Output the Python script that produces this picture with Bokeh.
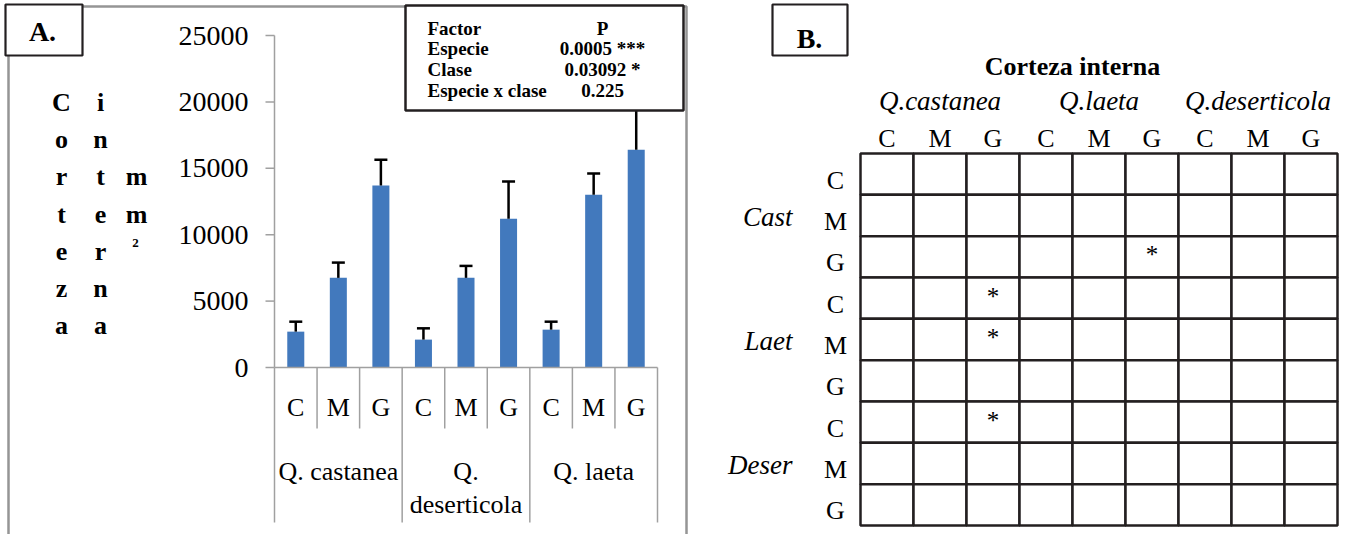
from bokeh.plotting import figure
from bokeh.models import Range1d
from bokeh.layouts import row
from bokeh.core.properties import value
from bokeh.embed import file_html
from bokeh.resources import INLINE

# ---------------- data ----------------
species_a = ["Q. castanea", "Q. deserticola", "Q. laeta"]
species_a_text = ["Q. castanea", "Q.\ndeserticola", "Q. laeta"]
classes = ["C", "M", "G"]
# inner bark area (mm2): mean and standard error per species and size class
area_mean = {
    "Q. castanea": [2700, 6750, 13700],
    "Q. deserticola": [2100, 6750, 11200],
    "Q. laeta": [2850, 13000, 16400],
}
area_se = {
    "Q. castanea": [750, 1150, 1950],
    "Q. deserticola": [850, 900, 2800],
    "Q. laeta": [600, 1600, 4500],
}
y_ticks = [0, 5000, 10000, 15000, 20000, 25000]
y_label_words = ["Corteza", "interna", "mm"]

anova_factor = ["Factor", "Especie", "Clase", "Especie x clase"]
anova_p = ["P", "0.0005 ***", "0.03092 *", "0.225"]

species_b_cols = ["Q.castanea", "Q.laeta", "Q.deserticola"]
species_b_rows = ["Cast", "Laet", "Deser"]
# significant pairwise differences: (row species, row class, column species, column class)
significant = [
    ("Cast", "G", "Q.laeta", "G"),
    ("Laet", "C", "Q.castanea", "G"),
    ("Laet", "M", "Q.castanea", "G"),
    ("Deser", "C", "Q.castanea", "G"),
]

SERIF = value("Liberation Serif")
INK = "#231f20"
BAR = "#4279bd"
AXIS_GREY = "#a0a0a0"

# ================= panel A: bar chart =================
WA, H = 690, 534
PLOT_L, PLOT_R = 274, 657       # canvas columns spanned by the nine categories
Y0_PX, YTOP_PX = 367, 35        # canvas rows of 0 and 25000
cw = (PLOT_R - PLOT_L) / 9
per_px = 25000 / (Y0_PX - YTOP_PX)


def ax_x(px):
    """category-index coordinate at canvas column px"""
    return (px - PLOT_L) / cw


def ax_y(py):
    """bar value coordinate at canvas row py"""
    return (Y0_PX - py) * per_px


pa = figure(width=WA, height=H, output_backend="svg", toolbar_location=None, title=None,
            x_range=Range1d(ax_x(0), ax_x(WA)), y_range=Range1d(ax_y(H), ax_y(0)),
            x_axis_location=None, y_axis_location=None,
            min_border=0, min_border_left=0, min_border_right=0,
            min_border_top=0, min_border_bottom=0)
pa.outline_line_color = None
pa.background_fill_color = "white"
pa.border_fill_color = "white"
pa.grid.visible = False

# bars and error bars
n = len(species_a) * len(classes)
pos = [i + 0.5 for i in range(n)]
means = [v for s in species_a for v in area_mean[s]]
uppers = [m + e for s in species_a for m, e in zip(area_mean[s], area_se[s])]
pa.vbar(x=pos, top=means, width=0.4, fill_color=BAR, line_color=None)
pa.segment(x0=pos, x1=pos, y0=means, y1=uppers, line_color="black", line_width=2.5)
half_cap = 6.5 / cw
pa.segment(x0=[p - half_cap for p in pos], x1=[p + half_cap for p in pos], y0=uppers, y1=uppers,
           line_color="black", line_width=2.5)

# value axis
pa.segment(x0=[0], x1=[0], y0=[y_ticks[0]], y1=[y_ticks[-1]], line_color=AXIS_GREY, line_width=1.5)
pa.segment(x0=[ax_x(265)] * len(y_ticks), x1=[0] * len(y_ticks), y0=y_ticks, y1=y_ticks,
           line_color=AXIS_GREY, line_width=1.5)
pa.text(x=[ax_x(248)] * len(y_ticks), y=y_ticks, text=[str(t) for t in y_ticks],
        text_font=SERIF, text_font_size="28px", text_align="right", text_baseline="middle",
        text_color="black")

# category table under the bars
pa.segment(x0=[0], x1=[n], y0=[0], y1=[0], line_color=AXIS_GREY, line_width=1.5)
edges = list(range(n + 1))
edge_end = [ax_y(522) if e % len(classes) == 0 else ax_y(428) for e in edges]
pa.segment(x0=edges, x1=edges, y0=[0] * len(edges), y1=edge_end,
           line_color=AXIS_GREY, line_width=1.5)
pa.text(x=pos, y=[ax_y(407)] * n, text=[c for _ in species_a for c in classes],
        text_font=SERIF, text_font_size="26px", text_align="center",
        text_baseline="middle", text_color="black")
group_mid = [len(classes) * (g + 0.5) for g in range(len(species_a))]
pa.text(x=group_mid, y=[ax_y(456)] * len(species_a), text=species_a_text,
        text_font=SERIF, text_font_size="26px", text_align="center",
        text_baseline="top", text_line_height=1.15, text_color="black")

# vertical axis title, written letter by letter in columns
col_px = [61, 100, 136]
col_row0 = [0, 0, 2]
lx, ly, lt = [], [], []
for word, cpx, r0 in zip(y_label_words, col_px, col_row0):
    for k, ch in enumerate(word):
        lx.append(ax_x(cpx))
        ly.append(ax_y(102 + 37.2 * (r0 + k)))
        lt.append(ch)
pa.text(x=lx, y=ly, text=lt, text_font=SERIF, text_font_style="bold", text_font_size="26px",
        text_align="center", text_baseline="alphabetic", text_color="black")
pa.text(x=[ax_x(135)], y=[ax_y(242)], text=["2"], text_font=SERIF, text_font_style="bold",
        text_font_size="13px", text_align="center", text_baseline="alphabetic", text_color="black")

# panel frame and letter tag
pa.quad(left=[ax_x(8)], right=[ax_x(686)], top=[ax_y(6)], bottom=[ax_y(560)],
        fill_color=None, line_color="#959595", line_width=2.5)
pa.quad(left=[ax_x(5)], right=[ax_x(82)], top=[ax_y(4)], bottom=[ax_y(55)],
        fill_color="white", line_color=INK, line_width=2.2)
pa.text(x=[ax_x(42)], y=[ax_y(31)], text=["A."], text_font=SERIF, text_font_style="bold",
        text_font_size="28px", text_align="center", text_baseline="middle", text_color="black")

# ANOVA table
pa.quad(left=[ax_x(405)], right=[ax_x(683)], top=[ax_y(5)], bottom=[ax_y(110)],
        fill_color="white", line_color=INK, line_width=2.5)
row_py = [28, 48, 69, 90]
pa.text(x=[ax_x(427)] * 4, y=[ax_y(r) for r in row_py], text=anova_factor,
        text_font=SERIF, text_font_style="bold", text_font_size="19px", text_align="left",
        text_baseline="middle", text_color="black")
pa.text(x=[ax_x(602)] * 4, y=[ax_y(r) for r in row_py], text=anova_p,
        text_font=SERIF, text_font_style="bold", text_font_size="19px", text_align="center",
        text_baseline="middle", text_color="black")

# ================= panel B: comparison matrix =================
WB = 656
ORIGIN_X = WA                   # panel B starts after panel A
GRID_L, GRID_T = 860, 153       # top-left corner of the matrix (page px)
cell_w, cell_h = 53.0, 41.33


def mx(px):
    """column-index coordinate at page column px"""
    return (px - GRID_L) / cell_w


def my(py):
    """row-index coordinate (downwards) at page row py"""
    return (py - GRID_T) / cell_h


pb = figure(width=WB, height=H, output_backend="svg", toolbar_location=None, title=None,
            x_range=Range1d(mx(ORIGIN_X), mx(ORIGIN_X + WB)), y_range=Range1d(my(H), my(0)),
            x_axis_location=None, y_axis_location=None,
            min_border=0, min_border_left=0, min_border_right=0,
            min_border_top=0, min_border_bottom=0)
pb.outline_line_color = None
pb.background_fill_color = "white"
pb.border_fill_color = "white"
pb.grid.visible = False

cols = [(s, c) for s in species_b_cols for c in classes]
rows = [(s, c) for s in species_b_rows for c in classes]
cell_x = [j + 0.5 for i in range(len(rows)) for j in range(len(cols))]
cell_y = [i + 0.5 for i in range(len(rows)) for j in range(len(cols))]
pb.rect(x=cell_x, y=cell_y, width=1, height=1, fill_color="white", line_color=INK, line_width=2.5)

# column headings
pb.text(x=[j + 0.5 for j in range(len(cols))], y=[my(138)] * len(cols), text=[c for _, c in cols],
        text_font=SERIF, text_font_size="26px", text_align="center", text_baseline="middle",
        text_color="black")
pb.text(x=[len(classes) * (g + 0.5) for g in range(len(species_b_cols))],
        y=[my(100)] * len(species_b_cols), text=species_b_cols,
        text_font=SERIF, text_font_style="italic", text_font_size="27px", text_align="center",
        text_baseline="middle", text_color="black")
pb.text(x=[mx(1072)], y=[my(66)], text=["Corteza interna"], text_font=SERIF,
        text_font_style="bold", text_font_size="26px", text_align="center",
        text_baseline="middle", text_color="black")

# row headings
pb.text(x=[mx(835)] * len(rows), y=[i + 0.5 for i in range(len(rows))], y_offset=6,
        text=[c for _, c in rows], text_font=SERIF, text_font_size="26px", text_align="center",
        text_baseline="middle", text_color="black")
pb.text(x=[mx(792)] * len(species_b_rows),
        y=[len(classes) * (g + 0.5) for g in range(len(species_b_rows))], y_offset=2,
        text=species_b_rows, text_font=SERIF, text_font_style="italic", text_font_size="27px",
        text_align="right", text_baseline="middle", text_color="black")

# significant differences
star_x = [cols.index((cs, cc)) + 0.5 for rs, rc, cs, cc in significant]
star_y = [rows.index((rs, rc)) + 0.5 for rs, rc, cs, cc in significant]
pb.text(x=star_x, y=star_y, text=["*"] * len(significant), y_offset=-2,
        text_font=SERIF, text_font_size="25px", text_align="center",
        text_baseline="middle", text_color="black")

# letter tag
pb.quad(left=[mx(772)], right=[mx(847)], top=[my(4)], bottom=[my(55)],
        fill_color="white", line_color=INK, line_width=2.2)
pb.text(x=[mx(809)], y=[my(38)], text=["B."], text_font=SERIF, text_font_style="bold",
        text_font_size="28px", text_align="center", text_baseline="middle", text_color="black")

layout = row(pa, pb, spacing=0)
open("out.html", "w").write(file_html(layout, INLINE))
